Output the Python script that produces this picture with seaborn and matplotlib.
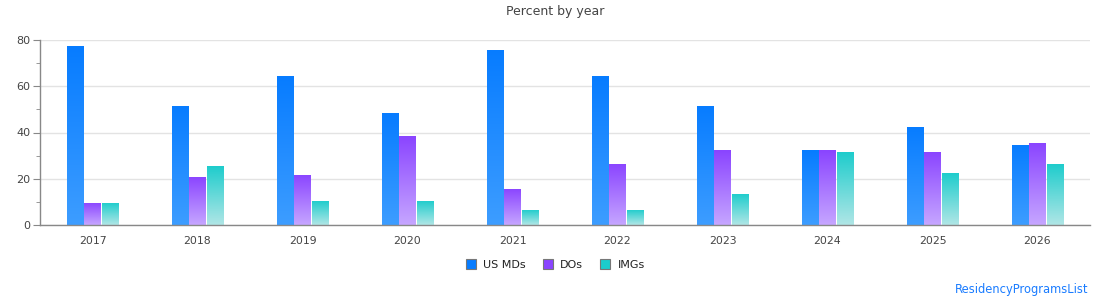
import numpy as np
import pandas as pd
import matplotlib
matplotlib.use("Agg")
import matplotlib.pyplot as plt
import seaborn as sns
from matplotlib.colors import to_rgba
from matplotlib.lines import Line2D
from matplotlib.ticker import MultipleLocator

# ===== data =====
years = ["2017", "2018", "2019", "2020", "2021", "2022", "2023", "2024", "2025", "2026"]
groups = ["US MDs", "DOs", "IMGs"]
us_mds = [77.4, 51.5, 64.4, 48.4, 75.7, 64.4, 51.5, 32.4, 42.5, 34.6]
dos = [9.7, 20.9, 21.8, 38.5, 15.7, 26.4, 32.4, 32.4, 31.6, 35.5]
imgs = [9.7, 25.6, 10.5, 10.5, 6.5, 6.5, 13.5, 31.6, 22.6, 26.4]

# top / bottom colours of the gradient bars
top_colors = ["#077cff", "#8a44ff", "#1ccccc"]
bottom_colors = ["#3d9dff", "#c6a6ff", "#b0e6e6"]

df = pd.DataFrame({
    "year": years * 3,
    "group": [g for g in groups for _ in years],
    "value": us_mds + dos + imgs,
})

sns.set_style("white")
plt.rcParams["font.family"] = ["DejaVu Sans"]

fig = plt.figure(figsize=(11.1, 3.0), dpi=100)
ax = fig.add_axes([40 / 1110, 1 - 225 / 300, 1050 / 1110, 185 / 300])

sns.barplot(data=df, x="year", y="value", hue="group", hue_order=groups,
            palette=top_colors, width=0.5, gap=0.06, legend=False, ax=ax,
            linewidth=0, saturation=1)

ax.set_ylim(0, 80)
ax.set_xlim(-0.5, len(years) - 0.5)
ax.autoscale(False)

# gradient fill, clipped to each bar
for i, container in enumerate(ax.containers):
    c_top = np.array(to_rgba(top_colors[i]))
    c_bot = np.array(to_rgba(bottom_colors[i]))
    grad = np.linspace(0, 1, 128)[:, None, None]
    img_arr = c_top * (1 - grad) + c_bot * grad
    for patch in container:
        x0 = patch.get_x()
        w = patch.get_width()
        h = patch.get_height()
        if h <= 0:
            continue
        im = ax.imshow(img_arr, extent=(x0, x0 + w, 0, h), origin="upper",
                       aspect="auto", zorder=patch.get_zorder() + 0.1,
                       interpolation="bilinear")
        im.set_clip_path(patch)

ax.yaxis.set_major_locator(MultipleLocator(20))
ax.yaxis.set_minor_locator(MultipleLocator(10))
ax.grid(axis="y", which="major", color="#e3e3e3", linewidth=1)
ax.set_axisbelow(True)

for side in ["top", "right"]:
    ax.spines[side].set_visible(False)
for side in ["left", "bottom"]:
    ax.spines[side].set_color("#888888")
    ax.spines[side].set_linewidth(1)

ax.tick_params(axis="y", which="major", length=5, color="#888888",
               labelsize=8, labelcolor="#444444", pad=2, left=True)
ax.tick_params(axis="y", which="minor", length=3, color="#888888", left=True)
ax.tick_params(axis="x", length=0, labelsize=7.8, labelcolor="#444444", pad=8)
ax.set_xlabel("")
ax.set_ylabel("")

fig.text(0.5, 1 - 12 / 300, "Percent by year", ha="center", va="center",
         fontsize=9, color="#444444")

handles = [Line2D([], [], marker="s", linestyle="none", markersize=6.5,
                  markerfacecolor=c, markeredgecolor="#777777",
                  markeredgewidth=0.8) for c in top_colors]
fig.legend(handles, groups, loc="center", bbox_to_anchor=(0.5, 1 - 265 / 300),
           ncol=3, frameon=False, fontsize=8, handletextpad=0.6,
           columnspacing=1.5, labelcolor="#222222", handlelength=1.0)

fig.text(1088 / 1110, 1 - 290 / 300, "ResidencyProgramsList", ha="right",
         va="center", fontsize=8.3, color="#1a7cff")

fig.savefig("out.png", dpi=100)
